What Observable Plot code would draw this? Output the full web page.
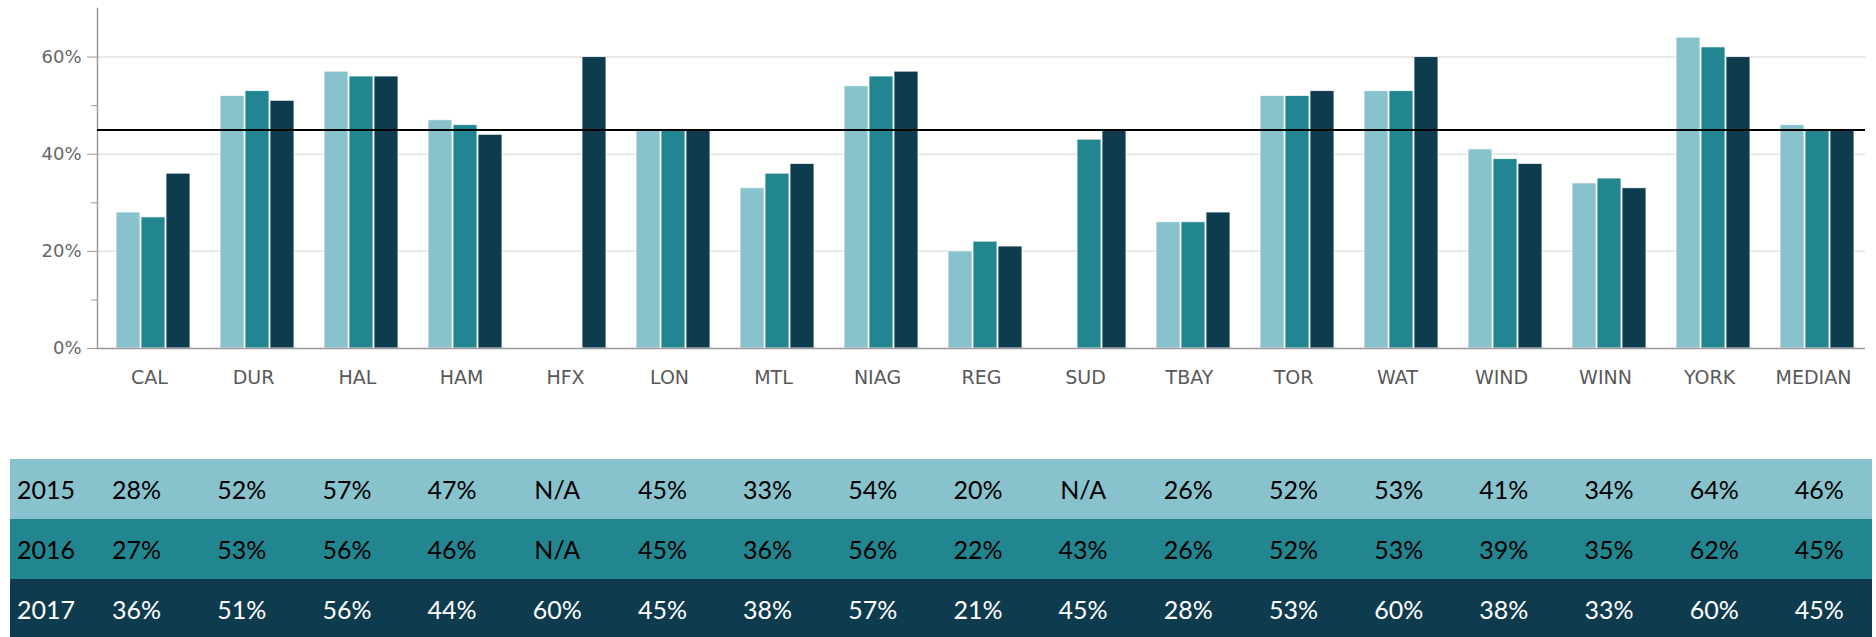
<!DOCTYPE html>
<html>
<head>
<meta charset="utf-8">
<script src="https://cdn.jsdelivr.net/npm/d3@7"></script>
<script src="https://cdn.jsdelivr.net/npm/@observablehq/plot@0.6"></script>
<style>
  html, body { margin: 0; padding: 0; background: #fff; }
  #chart svg { display: block; }
  #table { margin: 59px 0 0 10px; border-collapse: collapse; table-layout: fixed; width: 1862px;
           font-family: Lato, "Noto Sans", sans-serif; font-size: 25px; }
  #table td { height: 60px; padding: 0; text-align: center; vertical-align: middle; white-space: nowrap; }
  #table td.yr { text-align: left; padding-left: 7px; }
</style>
</head>
<body>
<div id="chart"></div>
<table id="table"></table>
<script>
const cities = ["CAL","DUR","HAL","HAM","HFX","LON","MTL","NIAG","REG","SUD","TBAY","TOR","WAT","WIND","WINN","YORK","MEDIAN"];
const years = ["2015","2016","2017"];
const v2015 = [28,52,57,47,null,45,33,54,20,null,26,52,53,41,34,64,46];
const v2016 = [27,53,56,46,null,45,36,56,22,43,26,52,53,39,35,62,45];
const v2017 = [36,51,56,44,60,45,38,57,21,45,28,53,60,38,33,60,45];
const referenceLine = [45];
const yTicks = [0,20,40,60];
const yGrid = [20,40,60];
const yMinorTicks = [10,30,50];
const colors = ["#88c2cd","#218690","#0f3b4f"];
const textColors = ["#000","#000","#fff"];

const series = [v2015, v2016, v2017];
const data = [];
cities.forEach((c, i) => series.forEach((s, j) => {
  if (s[i] != null) data.push({city: c, year: years[j], value: s[i]});
}));

const chart = Plot.plot({
  width: 1876,
  height: 400,
  marginLeft: 89,
  marginRight: 4,
  marginTop: 8,
  marginBottom: 52,
  style: {fontFamily: "DejaVu Sans", fontSize: "18px", background: "white"},
  fx: {domain: cities, padding: 0, label: null},
  x: {domain: years, paddingInner: 0.06, paddingOuter: 0.6, align: 0.625, axis: null},
  y: {domain: [0, 70], axis: null},
  color: {domain: years, range: colors},
  marks: [
    Plot.gridY(yGrid, {stroke: "#e2e2e2", strokeOpacity: 1, strokeWidth: 1.5}),
    Plot.barY(data, {fx: "city", x: "year", y: "value", fill: "year", stroke: "white", strokeWidth: 1, strokeOpacity: 0.8}),
    Plot.ruleY([0], {stroke: "#9a9a9a", strokeWidth: 1.5}),
    Plot.frame({anchor: "left", facetAnchor: "left", stroke: "#9a9a9a", strokeWidth: 1.5}),
    Plot.axisY({ticks: yTicks, tickSize: 10, tickPadding: 6, tickFormat: d => d + "%", stroke: "#9a9a9a", fill: "#666", label: null}),
    Plot.axisY({ticks: yMinorTicks, tickSize: 6, stroke: "#9a9a9a", fill: "none", label: null, tickFormat: () => ""}),
    Plot.axisFx({anchor: "bottom", tickSize: 0, tickPadding: 22, fontSize: 19, fill: "#595959", label: null}),
    Plot.ruleY(referenceLine, {stroke: "black", strokeWidth: 2})
  ]
});
document.getElementById("chart").appendChild(chart);

// data table below the chart
const table = document.getElementById("table");
const colgroup = document.createElement("colgroup");
const c0 = document.createElement("col"); c0.style.width = "74px"; colgroup.appendChild(c0);
const cw = (1862 - 74) / cities.length;
cities.forEach(() => { const c = document.createElement("col"); c.style.width = cw + "px"; colgroup.appendChild(c); });
table.appendChild(colgroup);
series.forEach((s, j) => {
  const tr = document.createElement("tr");
  tr.style.background = colors[j];
  tr.style.color = textColors[j];
  const th = document.createElement("td");
  th.className = "yr";
  th.textContent = years[j];
  tr.appendChild(th);
  s.forEach(v => {
    const td = document.createElement("td");
    td.textContent = v == null ? "N/A" : v + "%";
    tr.appendChild(td);
  });
  table.appendChild(tr);
});
</script>
</body>
</html>
